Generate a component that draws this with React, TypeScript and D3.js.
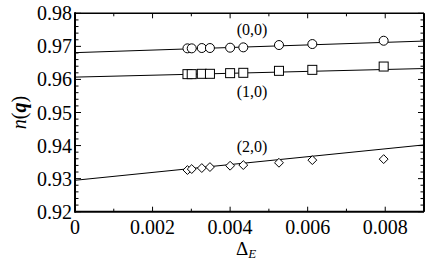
import React, { useEffect } from 'react';
import * as d3 from 'd3';

// Delta_E values (shared by the three series)
const deltaE = [0.0029, 0.00301, 0.00327, 0.00348, 0.004, 0.00434, 0.00526, 0.00612, 0.00796];

const n00 = [0.9694, 0.9694, 0.9695, 0.9695, 0.9696, 0.9697, 0.9704, 0.9707, 0.9717];
const n10 = [0.9616, 0.9616, 0.9617, 0.9617, 0.9619, 0.962, 0.9626, 0.9629, 0.9639];
const n20 = [0.9326, 0.9329, 0.9332, 0.9335, 0.9339, 0.9341, 0.9348, 0.9356, 0.9359];

// fitted lines: [value at 0, value at 0.009]
const fit00 = [0.9681, 0.9716];
const fit10 = [0.9607, 0.9633];
const fit20 = [0.9295, 0.9402];

const xTicks = [0, 0.002, 0.004, 0.006, 0.008];
const yTicks = [0.92, 0.93, 0.94, 0.95, 0.96, 0.97, 0.98];

const W = 425;
const H = 261;
const m = { left: 75, top: 13.3, right: 1, bottom: 49.3 };
const FONT = "'Liberation Serif', 'Times New Roman', Times, 'DejaVu Serif', serif";

const App: React.FC = () => {
  useEffect(() => {
    document.body.style.margin = '0';
  }, []);

  const x = d3.scaleLinear().domain([0, 0.009]).range([m.left, W - m.right]);
  const y = d3.scaleLinear().domain([0.92, 0.98]).range([H - m.bottom, m.top]);
  const x0 = m.left, x1 = W - m.right, y0 = H - m.bottom, y1 = m.top;

  const xMinor = d3.range(0, 0.00901, 0.001);
  const yMinor = d3.range(0.92, 0.9801, 0.002);

  const line = d3.line<[number, number]>().x(d => x(d[0])).y(d => y(d[1]));
  const fitPath = (f: number[]) => line([[0, f[0]], [0.009, f[1]]]) as string;

  const r = 4.5;
  const diamond = d3.symbol().type(d3.symbolDiamond2).size(50)() as string;

  return (
    <svg width={W} height={H} style={{ display: 'block', fontFamily: FONT }}>
      {/* fit lines */}
      {[fit00, fit10, fit20].map((f, i) => (
        <path key={i} d={fitPath(f)} fill="none" stroke="#000" strokeWidth={1} />
      ))}
      {/* markers */}
      {deltaE.map((d, i) => (
        <circle key={'c' + i} cx={x(d)} cy={y(n00[i])} r={r} fill="#fff" stroke="#000" strokeWidth={1} />
      ))}
      {deltaE.map((d, i) => (
        <rect key={'s' + i} x={x(d) - r} y={y(n10[i]) - r} width={2 * r} height={2 * r} fill="#fff" stroke="#000" strokeWidth={1} />
      ))}
      {deltaE.map((d, i) => (
        <path key={'d' + i} d={diamond} transform={`translate(${x(d)},${y(n20[i])})`} fill="#fff" stroke="#000" strokeWidth={1} />
      ))}

      {/* ticks */}
      {xMinor.map((t, i) => {
        const len = i % 2 === 0 ? 5 : 3;
        return (
          <g key={'xt' + i} stroke="#000" strokeWidth={1}>
            <line x1={x(t)} x2={x(t)} y1={y0} y2={y0 - len} />
            <line x1={x(t)} x2={x(t)} y1={y1} y2={y1 + len} />
          </g>
        );
      })}
      {yMinor.map((t, i) => {
        const len = i % 5 === 0 ? 6 : 3.5;
        return (
          <g key={'yt' + i} stroke="#000" strokeWidth={1}>
            <line x1={x0} x2={x0 + len} y1={y(t)} y2={y(t)} />
            <line x1={x1} x2={x1 - len} y1={y(t)} y2={y(t)} />
          </g>
        );
      })}

      {/* frame */}
      <line x1={x0} x2={x1} y1={y0} y2={y0} stroke="#000" strokeWidth={2} />
      <line x1={x0} x2={x0} y1={y0 + 1} y2={y1 - 1} stroke="#000" strokeWidth={2} />
      <line x1={x0} x2={x1} y1={y1} y2={y1} stroke="#000" strokeWidth={1.5} />
      <line x1={x1} x2={x1} y1={y0} y2={y1} stroke="#000" strokeWidth={2} />

      {/* tick labels */}
      {xTicks.map(t => (
        <text key={'xl' + t} x={x(t)} y={y0 + 22} textAnchor="middle" fontSize={20}>{t === 0 ? '0' : t.toFixed(3)}</text>
      ))}
      {yTicks.map(t => (
        <text key={'yl' + t} x={x0 - 3} y={y(t) + 7} textAnchor="end" fontSize={20}>{t.toFixed(2)}</text>
      ))}

      {/* series labels */}
      <text x={252} y={35} textAnchor="middle" fontSize={16}>(0,0)</text>
      <text x={252} y={97} textAnchor="middle" fontSize={16}>(1,0)</text>
      <text x={252} y={152} textAnchor="middle" fontSize={16}>(2,0)</text>

      {/* axis titles */}
      <text x={236} y={255} fontSize={19}>
        Δ<tspan fontSize={13} fontStyle="italic" dy={3}>E</tspan>
      </text>
      <text transform={`translate(26,${(y0 + y1) / 2}) rotate(-90)`} textAnchor="middle" fontSize={20}>
        <tspan fontStyle="italic">n</tspan>(<tspan fontStyle="italic" fontWeight="bold">q</tspan>)
      </text>
    </svg>
  );
};

export default App;
